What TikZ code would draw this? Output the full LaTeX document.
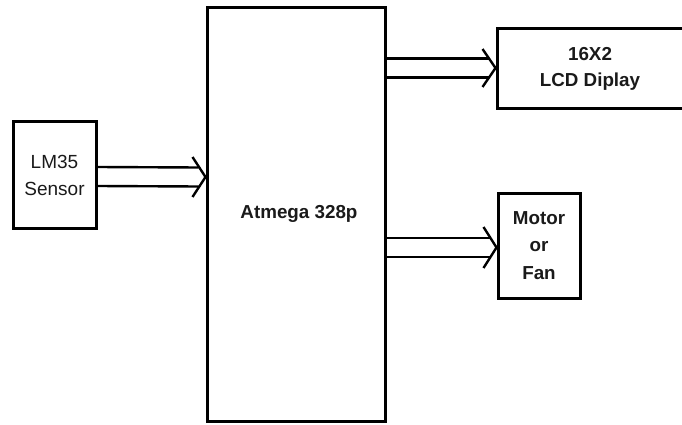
\documentclass[tikz,border=0pt]{standalone}
\usepackage{fontspec}
\setmainfont{Liberation Sans}
\usetikzlibrary{calc}
\definecolor{inkc}{HTML}{1A1A1A}
\begin{document}
\begin{tikzpicture}[x=1pt,y=-1pt,
  blockbox/.style={draw=black,line width=3pt,fill=white,inner sep=0pt,align=center,text=inkc,
    font=\fontsize{18.8}{27}\selectfont\bfseries},
  arrowline/.style={draw=black,line width=2.4pt,line cap=butt,line join=miter}]
\newcommand{\hollowarrow}[3]{% #1 start, #2 tip, #3 half-height of head
  \draw[arrowline] ($(#1)+(0,-9.5)$) -- ($(#2)+(-7,-9.5)$);
  \draw[arrowline] ($(#1)+(0,9.5)$) -- ($(#2)+(-7,9.5)$);
  \draw[arrowline] ($(#2)+(-13,-#3)$) -- (#2) -- ($(#2)+(-13,#3)$);
}
\useasboundingbox (0,0) rectangle (682,425);
\clip (0,0) rectangle (682,425);
\fill[white] (0,0) rectangle (682,425);
% blocks
\node[blockbox,minimum width=178pt,minimum height=413pt] (atm) at (296,214.5) {\raisebox{6pt}{\hspace{6pt}Atmega 328p}};
\node[blockbox,minimum width=83pt,minimum height=106pt,
  font=\fontsize{19}{27}\selectfont] (lm) at (54.5,175) {LM35\\Sensor};
\node[blockbox,minimum width=206pt,minimum height=80pt,
  font=\fontsize{18.8}{25.5}\selectfont\bfseries] (lcd) at (600,69) {16X2\rule{20pt}{0pt}\\LCD Diplay\rule{20pt}{0pt}};
\node[blockbox,minimum width=82pt,minimum height=105pt,
  font=\fontsize{18.8}{27.5}\selectfont\bfseries] (mot) at (539,245.5) {Motor\\or\\Fan};
% arrow anchor points
\coordinate (a1s) at (lm.east |- 0,176.5);
\coordinate (a1t) at (atm.west |- 0,177);
\coordinate (a2s) at (atm.east |- 0,68);
\coordinate (a2t) at (lcd.west |- 0,68);
\coordinate (a3s) at (atm.east |- 0,247.5);
\coordinate (a3t) at (mot.west |- 0,247.5);
\hollowarrow{a1s}{a1t}{20}
\hollowarrow{a2s}{a2t}{19}
\hollowarrow{a3s}{a3t}{20.5}
\end{tikzpicture}
\end{document}
